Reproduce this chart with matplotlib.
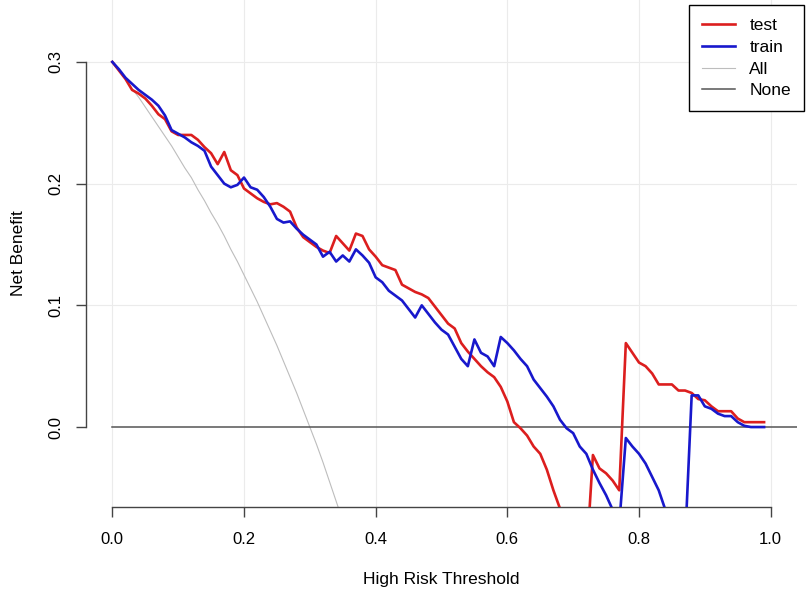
import numpy as np
import matplotlib
matplotlib.use("Agg")
import matplotlib.pyplot as plt

plt.rcParams['font.family'] = ['Liberation Sans', 'DejaVu Sans']

# ------------------------------------------------------------------
# data (thresholds 0.00 .. 0.99)
# ------------------------------------------------------------------
threshold = np.round(np.arange(100) / 100, 2)

test_nb = [
    0.300, 0.293, 0.286, 0.277, 0.274, 0.270, 0.264, 0.257, 0.253, 0.243,
    0.240, 0.240, 0.240, 0.236, 0.230, 0.225, 0.216, 0.226, 0.211, 0.207,
    0.196, 0.192, 0.188, 0.185, 0.183, 0.184, 0.181, 0.177, 0.164, 0.156,
    0.152, 0.148, 0.145, 0.143, 0.157, 0.151, 0.145, 0.159, 0.157, 0.146,
    0.140, 0.133, 0.131, 0.129, 0.117, 0.114, 0.111, 0.109, 0.106, 0.099,
    0.092, 0.085, 0.081, 0.069, 0.062, 0.056, 0.050, 0.045, 0.041, 0.033,
    0.021, 0.004, -0.001, -0.007, -0.016, -0.022, -0.035, -0.052, -0.067, -0.090,
    -0.120, -0.140, -0.110, -0.023, -0.034, -0.038, -0.044, -0.052, 0.069, 0.061,
    0.053, 0.050, 0.044, 0.035, 0.035, 0.035, 0.030, 0.030, 0.028, 0.023,
    0.022, 0.017, 0.013, 0.013, 0.013, 0.007, 0.004, 0.004, 0.004, 0.004,
]

train_nb = [
    0.300, 0.294, 0.287, 0.282, 0.277, 0.273, 0.269, 0.264, 0.256, 0.244,
    0.241, 0.238, 0.234, 0.231, 0.227, 0.214, 0.207, 0.200, 0.197, 0.199,
    0.205, 0.197, 0.195, 0.189, 0.181, 0.171, 0.168, 0.169, 0.163, 0.158,
    0.154, 0.150, 0.140, 0.144, 0.136, 0.141, 0.136, 0.146, 0.141, 0.135,
    0.123, 0.119, 0.112, 0.108, 0.104, 0.097, 0.090, 0.100, 0.093, 0.086,
    0.080, 0.076, 0.066, 0.056, 0.050, 0.072, 0.061, 0.058, 0.050, 0.074,
    0.069, 0.063, 0.056, 0.050, 0.039, 0.032, 0.025, 0.017, 0.006, -0.001,
    -0.005, -0.016, -0.022, -0.035, -0.046, -0.056, -0.068, -0.080, -0.009, -0.016,
    -0.022, -0.030, -0.041, -0.052, -0.068, -0.100, -0.120, -0.095, 0.026, 0.026,
    0.017, 0.015, 0.011, 0.009, 0.009, 0.004, 0.001, 0.000, 0.000, 0.000,
]

# treat-all curve (prevalence 0.3), only the visible part
all_x = [0.00, 0.01, 0.02, 0.03, 0.04, 0.05, 0.06, 0.07, 0.08, 0.09,
         0.10, 0.11, 0.12, 0.13, 0.14, 0.15, 0.16, 0.17, 0.18, 0.19,
         0.20, 0.21, 0.22, 0.23, 0.24, 0.25, 0.26, 0.27, 0.28, 0.29,
         0.30, 0.31, 0.32, 0.33, 0.34, 0.35, 0.36]
all_nb = [0.300, 0.293, 0.286, 0.278, 0.271, 0.263, 0.255, 0.247, 0.239, 0.231,
          0.222, 0.213, 0.205, 0.195, 0.186, 0.176, 0.167, 0.157, 0.146, 0.136,
          0.125, 0.114, 0.103, 0.091, 0.079, 0.067, 0.054, 0.041, 0.028, 0.014,
          0.000, -0.014, -0.029, -0.045, -0.061, -0.077, -0.094]

labels = ['test', 'train', 'All', 'None']
colors = ['#DC1E1E', '#1818CC', '#BDBDBD', '#555555']

# ------------------------------------------------------------------
# figure
# ------------------------------------------------------------------
fig = plt.figure(figsize=(8.09, 5.96), dpi=100)
ax = fig.add_axes([86 / 809, 89 / 596, (797 - 86) / 809, 507 / 596])
ax.set_xlim(-0.04, 1.04)
ax.set_ylim(-0.0657, 0.3509)

xt = [0.0, 0.2, 0.4, 0.6, 0.8, 1.0]
yt = [0.0, 0.1, 0.2, 0.3]
for v in xt:
    ax.axvline(v, color='#EBEBEB', lw=0.8, zorder=0)
for v in yt[1:]:
    ax.axhline(v, color='#EBEBEB', lw=0.8, zorder=0)

l_test, = ax.plot(threshold, test_nb, color=colors[0], lw=1.9, zorder=4)
l_train, = ax.plot(threshold, train_nb, color=colors[1], lw=1.9, zorder=5)
l_all, = ax.plot(all_x, all_nb, color=colors[2], lw=0.8, zorder=2)
x0, x1 = ax.get_xlim()
l_none = ax.axhline(0, xmin=(0 - x0) / (x1 - x0), xmax=1, color=colors[3], lw=1.1, zorder=3)

# R-style axes
for s in ['top', 'right']:
    ax.spines[s].set_visible(False)
ax.spines['left'].set_bounds(0, 0.3)
ax.spines['bottom'].set_bounds(0, 1)
for s in ['left', 'bottom']:
    ax.spines[s].set_color('#444444')
    ax.spines[s].set_linewidth(1.0)

ax.set_xticks(xt, [f'{v:.1f}' for v in xt])
ax.set_yticks(yt, [f'{v:.1f}' for v in yt])
ax.tick_params(axis='x', length=7.2, width=1.0, color='#444444', labelsize=12, pad=11)
ax.tick_params(axis='y', length=7.2, width=1.0, color='#444444', labelsize=12, pad=9)
for lab in ax.get_yticklabels():
    lab.set_rotation(90)
    lab.set_va('center')

ax.set_xlabel('High Risk Threshold', fontsize=12.5, labelpad=18)
ax.set_ylabel('Net Benefit', fontsize=12.5, labelpad=16)

leg = ax.legend([l_test, l_train, l_all, l_none], labels,
                loc='upper right', bbox_to_anchor=(804 / 809, 591 / 596),
                bbox_transform=fig.transFigure, borderaxespad=0,
                fancybox=False, framealpha=1, edgecolor='black',
                fontsize=12.5, handlelength=1.95, handletextpad=0.8,
                borderpad=0.75, labelspacing=0.38)
leg.get_frame().set_linewidth(1.0)

fig.savefig('out.png', dpi=100)
